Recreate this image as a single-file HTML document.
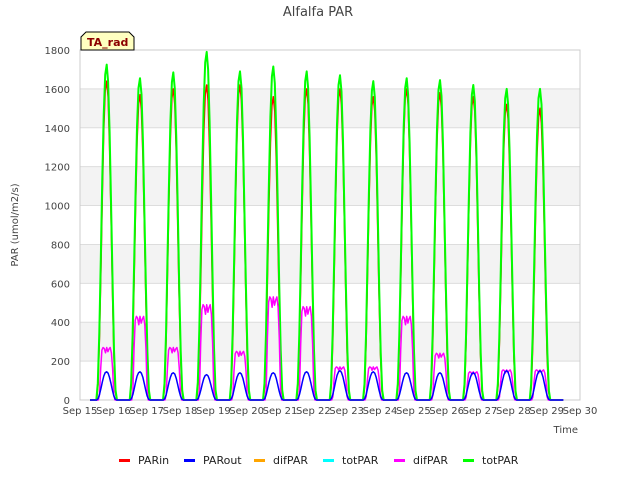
<!DOCTYPE html>
<html><head><meta charset="utf-8"><style>
body{margin:0;background:#fff;font-family:"Liberation Sans","DejaVu Sans",sans-serif}
</style></head><body>
<svg id="c" width="640" height="480" xmlns="http://www.w3.org/2000/svg" font-family="DejaVu Sans, Liberation Sans, sans-serif">
<text x="318" y="16" text-anchor="middle" font-size="13" fill="#444">Alfalfa PAR</text>
<g id="grid"></g>
<rect x="80" y="50" width="500" height="350" fill="none" stroke="#ccc"/>
<g id="series"></g>
<g id="axes"></g>
<text x="18" y="225" transform="rotate(-90 18 225)" text-anchor="middle" font-size="10" fill="#444">PAR (umol/m2/s)</text>
<text x="578" y="433" text-anchor="end" font-size="10" fill="#444">Time</text>
<g>
<path d="M81,50 L81,37 L86,32 L129,32 L134,37 L134,50 Z" fill="#ffffc0" stroke="#000"/>
<text x="87" y="46" font-size="11" font-weight="bold" fill="#8b0000">TA_rad</text>
</g>
<g id="legend"></g>
</svg>
<script>
const dayLabels=["Sep 15","Sep 16","Sep 17","Sep 18","Sep 19","Sep 20","Sep 21","Sep 22","Sep 23","Sep 24","Sep 25","Sep 26","Sep 27","Sep 28","Sep 29","Sep 30"];
const yTicks=[0,200,400,600,800,1000,1200,1400,1600,1800];
const totPeak=[1725,1655,1685,1790,1690,1715,1690,1670,1640,1655,1645,1620,1600,1600];
const inPeak=[1640,1570,1600,1620,1620,1560,1600,1600,1560,1600,1580,1560,1520,1500];
const outPeak=[145,145,140,130,140,140,145,150,145,140,140,140,150,150];
const difPeak=[270,430,270,490,250,530,480,170,170,430,240,145,155,155];
const profile=[0,0.05,0.2,0.42,0.65,0.85,0.97,1,0.95,0.8,0.58,0.35,0.15,0.03,0];
const difProfile=[0,0.1,0.6,0.95,1,0.98,0.9,1,0.92,0.97,1,0.9,0.6,0.1,0];
const NS="http://www.w3.org/2000/svg";
const X0=80,X1=580,Y0=400,Y1=50;
function xs(d){return X0+(d)*(X1-X0)/15;}
function ys(v){return Y0-v*(Y0-Y1)/1800;}
function mk(t,a,p){const e=document.createElementNS(NS,t);for(const k in a)e.setAttribute(k,a[k]);p.appendChild(e);return e;}
const grid=document.getElementById('grid'),axes=document.getElementById('axes'),ser=document.getElementById('series');
for(let i=0;i<yTicks.length-1;i++){
 if(i%2==1){const r=mk('rect',{x:X0,y:ys(yTicks[i+1]),width:X1-X0,height:ys(yTicks[i])-ys(yTicks[i+1]),fill:'#f3f3f3'},grid);
 
 }
}
yTicks.forEach(v=>{
 const l=mk('line',{x1:X0,x2:X1,y1:ys(v),y2:ys(v),stroke:'#ddd'},grid);
 
 
 const t=mk('text',{x:X0-10,y:ys(v)+4,'text-anchor':'end','font-size':'10',fill:'#444'},axes);t.textContent=v;
 
 
});
dayLabels.forEach((s,i)=>{
 const t=mk('text',{x:xs(i),y:414,'text-anchor':'middle','font-size':'10',fill:'#444'},axes);t.textContent=s;
 
 
});
function series(peaks,prof,color,w,name,span){
 let d='M'+xs(0.3)+','+ys(0);
 peaks.forEach((p,i)=>{
  const st=i+0.8-span/2,n=prof.length-1;
  d+=' L'+xs(st).toFixed(1)+','+ys(0);
  prof.forEach((f,k)=>{d+=' L'+xs(st+k*span/n).toFixed(1)+','+ys(p*f).toFixed(1);});
 });
 d+=' L'+xs(14.5)+','+ys(0);
 const e=mk('path',{d:d,fill:'none',stroke:color,'stroke-width':w,'stroke-linejoin':'round'},ser);
 
 
}
series(inPeak,profile,'#ff0000',1.5,'parin-line',0.6);
series(totPeak,profile,'#00ff00',2,'totpar-line',0.62);
series(difPeak,difProfile,'#ff00ff',1.5,'difpar-line',0.5);
series(outPeak,profile,'#0000ff',1.5,'parout-line',0.6);
const legItems=[["PARin","#ff0000"],["PARout","#0000ff"],["difPAR","#ffa500"],["totPAR","#00ffff"],["difPAR","#ff00ff"],["totPAR","#00ff00"]];
const legX=[119,184,254,323,394,463];
const lg=document.getElementById('legend');
legItems.forEach((it,i)=>{
 const g=mk('g',{},lg);
 
 
 mk('rect',{x:legX[i],y:459,width:11,height:3,fill:it[1]},g);
 const t=mk('text',{x:legX[i]+19,y:464,'font-size':'11',fill:'#222'},g);t.textContent=it[0];
});
</script>
</body></html>
